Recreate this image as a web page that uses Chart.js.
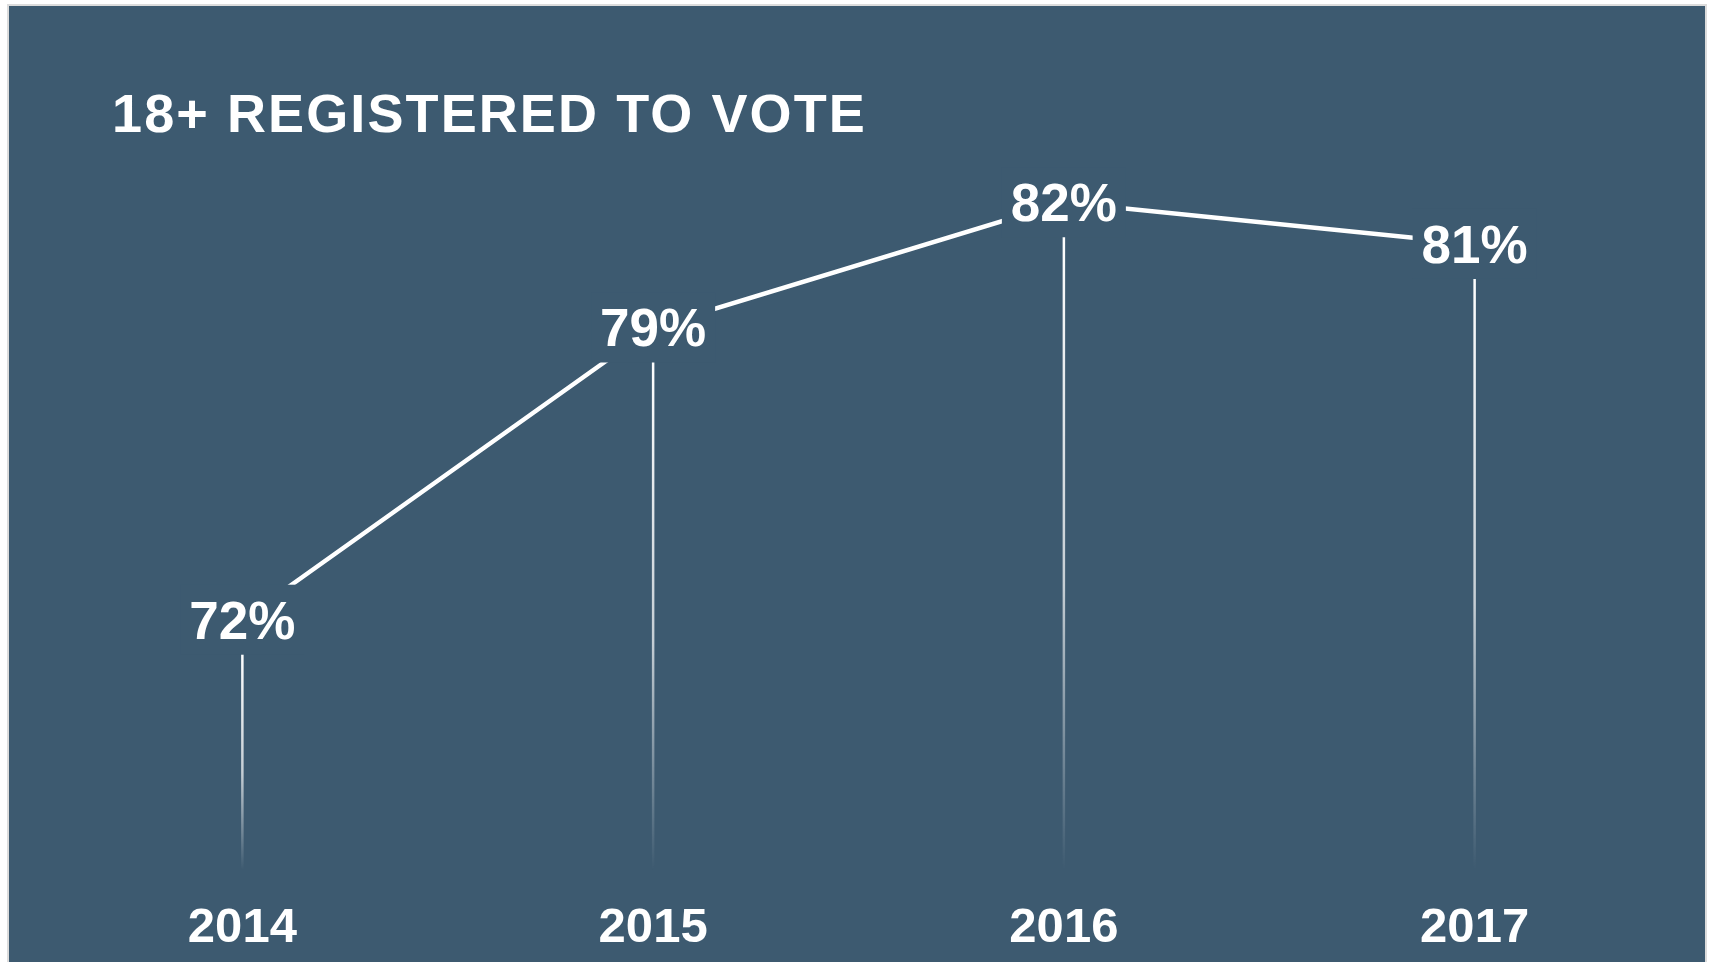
<!DOCTYPE html>
<html>
<head>
<meta charset="utf-8">
<script src="https://cdn.jsdelivr.net/npm/chart.js@4.4.1/dist/chart.umd.min.js"></script>
<style>
  html, body { margin: 0; padding: 0; background: #ffffff; }
  #panel {
    position: absolute; left: 7px; top: 4px;
    width: 1700px; height: 958px;
    border-left: 2px solid #dcdcdc; border-top: 2px solid #dcdcdc; border-right: 2px solid #dcdcdc;
    box-sizing: border-box;
    background: #3d5a70;
    overflow: hidden;
  }
  #chart { display: block; }
</style>
</head>
<body>
<div id="panel"><canvas id="chart" width="1696" height="956"></canvas></div>
<script>
// --- data ---
const years = ['2014', '2015', '2016', '2017'];
const registered = [72, 79, 82, 81];
const titleText = '18+ REGISTERED TO VOTE';

const BG = '#3d5a70';
const FONT = '"Liberation Sans", Arial, sans-serif';

// title drawn with letter spacing
const titlePlugin = {
    id: 'titleText',
    afterDraw(chart) {
        const ctx = chart.ctx;
        ctx.save();
        ctx.font = 'bold 54px ' + FONT;
        ctx.letterSpacing = '2.1px';
        ctx.fillStyle = '#ffffff';
        ctx.textAlign = 'left';
        ctx.textBaseline = 'alphabetic';
        ctx.fillText(titleText, 103, 126);
        ctx.restore();
    }
};

// drop lines + value labels (mask the line under each label)
const labelPlugin = {
    id: 'valueLabels',
    afterDatasetsDraw(chart) {
        const ctx = chart.ctx;
        const meta = chart.getDatasetMeta(0);
        const bottom = chart.chartArea.bottom;
        ctx.save();
        meta.data.forEach(function(pt, i) {
            const x = pt.x, y = pt.y;
            // mask
            ctx.fillStyle = BG;
            ctx.fillRect(x - 62, y - 35, 124, 70);
            // drop line
            const grad = ctx.createLinearGradient(0, y + 35, 0, bottom);
            grad.addColorStop(0, 'rgba(255,255,255,1)');
            grad.addColorStop(0.55, 'rgba(255,255,255,0.7)');
            grad.addColorStop(1, 'rgba(255,255,255,0)');
            ctx.strokeStyle = grad;
            ctx.lineWidth = 2.5;
            ctx.beginPath();
            ctx.moveTo(x, y + 35);
            ctx.lineTo(x, bottom);
            ctx.stroke();
            // text
            ctx.fillStyle = '#ffffff';
            ctx.font = 'bold 53px ' + FONT;
            ctx.textAlign = 'center';
            ctx.textBaseline = 'alphabetic';
            ctx.fillText(registered[i] + '%', x, y + 19);
        });
        ctx.restore();
    }
};

new Chart(document.getElementById('chart'), {
    type: 'line',
    data: {
        labels: years,
        datasets: [{
            data: registered,
            borderColor: '#ffffff',
            borderWidth: 4.5,
            pointRadius: 0,
            pointHoverRadius: 0,
            tension: 0,
            fill: false
        }]
    },
    options: {
        responsive: false,
        animation: false,
        events: [],
        layout: { padding: { top: 71, left: 28, right: 25, bottom: -25 } },
        plugins: {
            legend: { display: false },
            tooltip: { enabled: false },
            title: { display: false }
        },
        scales: {
            x: {
                offset: true,
                grid: { display: false, drawTicks: false },
                border: { display: false },
                ticks: {
                    color: '#ffffff',
                    padding: 29,
                    font: { family: FONT, size: 49, weight: 'bold' }
                }
            },
            y: {
                display: false,
                min: 66,
                max: 85
            }
        }
    },
    plugins: [labelPlugin, titlePlugin]
});
</script>
</body>
</html>
